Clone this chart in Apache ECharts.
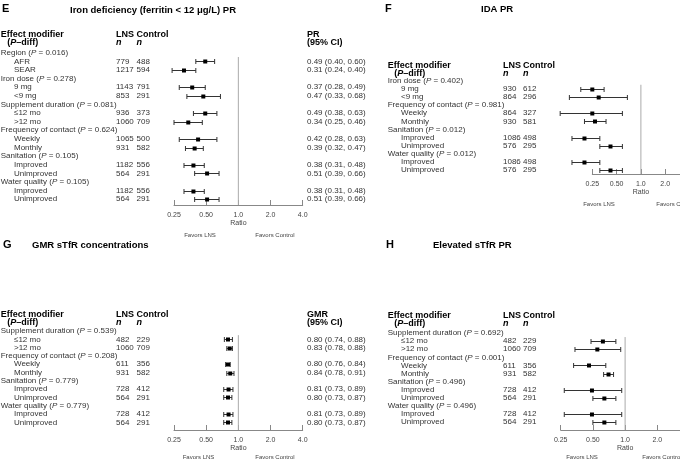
<!DOCTYPE html>
<html><head><meta charset="utf-8">
<script src="https://cdn.jsdelivr.net/npm/echarts@6/dist/echarts.min.js"></script>
<style>html,body{margin:0;padding:0;background:#fff;overflow:hidden}#c{width:680px;height:460px}</style>
</head><body><div id="c"></div>
<script>
// ---------- data ----------
const tickValues = [0.25, 0.5, 1, 2, 4];
const tickLabels = ['0.25', '0.50', '1.0', '2.0', '4.0'];

// Panel E: Iron deficiency PR
const eGroups = ['Region', 'Iron dose', 'Supplement duration', 'Frequency of contact', 'Sanitation', 'Water quality'];
const eGroupP = ['0.016', '0.278', '0.081', '0.624', '0.105', '0.105'];
const eSub = ['AFR', 'SEAR', '9 mg', '<9 mg', '≤12 mo', '>12 mo', 'Weekly', 'Monthly', 'Improved', 'Unimproved', 'Improved', 'Unimproved'];
const eLNS = [779, 1217, 1143, 853, 936, 1060, 1065, 931, 1182, 564, 1182, 564];
const eCtl = [488, 594, 791, 291, 373, 709, 500, 582, 556, 291, 556, 291];
const eEst = [0.49, 0.31, 0.37, 0.47, 0.49, 0.34, 0.42, 0.39, 0.38, 0.51, 0.38, 0.51];
const eLo  = [0.40, 0.24, 0.28, 0.33, 0.38, 0.25, 0.28, 0.32, 0.31, 0.39, 0.31, 0.39];
const eHi  = [0.60, 0.40, 0.49, 0.68, 0.63, 0.46, 0.63, 0.47, 0.48, 0.66, 0.48, 0.66];

// Panel F: IDA PR
const fGroups = ['Iron dose', 'Frequency of contact', 'Sanitation', 'Water quality'];
const fGroupP = ['0.402', '0.981', '0.012', '0.012'];
const fSub = ['9 mg', '<9 mg', 'Weekly', 'Monthly', 'Improved', 'Unimproved', 'Improved', 'Unimproved'];
const fLNS = [930, 864, 864, 930, 1086, 576, 1086, 576];
const fCtl = [612, 296, 327, 581, 498, 295, 498, 295];
const fEst = [0.25, 0.30, 0.25, 0.27, 0.20, 0.42, 0.20, 0.42];
const fLo  = [0.18, 0.13, 0.10, 0.20, 0.14, 0.31, 0.14, 0.31];
const fHi  = [0.35, 0.68, 0.59, 0.37, 0.31, 0.59, 0.31, 0.59];

// Panel G: GMR sTfR concentrations
const gGroups = ['Supplement duration', 'Frequency of contact', 'Sanitation', 'Water quality'];
const gGroupP = ['0.539', '0.208', '0.779', '0.779'];
const gSub = ['≤12 mo', '>12 mo', 'Weekly', 'Monthly', 'Improved', 'Unimproved', 'Improved', 'Unimproved'];
const gLNS = [482, 1060, 611, 931, 728, 564, 728, 564];
const gCtl = [229, 709, 356, 582, 412, 291, 412, 291];
const gEst = [0.80, 0.83, 0.80, 0.84, 0.81, 0.80, 0.81, 0.80];
const gLo  = [0.74, 0.78, 0.76, 0.78, 0.73, 0.73, 0.73, 0.73];
const gHi  = [0.88, 0.88, 0.84, 0.91, 0.89, 0.87, 0.89, 0.87];

// Panel H: Elevated sTfR PR
const hGroups = ['Supplement duration', 'Frequency of contact', 'Sanitation', 'Water quality'];
const hGroupP = ['0.692', '0.001', '0.496', '0.496'];
const hSub = ['≤12 mo', '>12 mo', 'Weekly', 'Monthly', 'Improved', 'Unimproved', 'Improved', 'Unimproved'];
const hLNS = [482, 1060, 611, 931, 728, 564, 728, 564];
const hCtl = [229, 709, 356, 582, 412, 291, 412, 291];
const hEst = [0.62, 0.55, 0.46, 0.70, 0.49, 0.64, 0.49, 0.64];
const hLo  = [0.48, 0.34, 0.33, 0.63, 0.27, 0.50, 0.27, 0.50];
const hHi  = [0.82, 0.91, 0.66, 0.78, 0.93, 0.82, 0.93, 0.82];

// ---------- build ----------
const FONT = '"Liberation Sans", Arial, Helvetica, sans-serif';
const TXT = '#333';

function buildRows(groups, groupP, sub, lns, ctl, est, lo, hi) {
  const rows = [];
  groups.forEach((g, gi) => {
    rows.push({kind: 'group', label: g, p: groupP[gi]});
    for (let k = 0; k < 2; k++) {
      const i = gi * 2 + k;
      rows.push({kind: 'sub', label: sub[i], lns: lns[i], ctl: ctl[i], est: est[i], lo: lo[i], hi: hi[i]});
    }
  });
  return rows;
}

const panels = [
  {rows: buildRows(eGroups, eGroupP, eSub, eLNS, eCtl, eEst, eLo, eHi),
   letter: 'E', letterX: 2, letterY: 9, title: 'Iron deficiency (ferritin < 12 μg/L) PR', titleX: 153, titleY: 10, titleAlign: 'center',
   measure: 'PR', row0: 52.7, pitch: 8.62, axisY: 205, axL: 174, axW: 128.7,
   col: {grp: 0.7, sub: 14, lns: 116, ctlH: 136.5, ctl: 136.5, ci: 307}, hdr1: 34.3, hdr2: 42.7,
   favL: [200, 235], favC: [275, 235]},
  {rows: buildRows(fGroups, fGroupP, fSub, fLNS, fCtl, fEst, fLo, fHi),
   letter: 'F', letterX: 385, letterY: 9, title: 'IDA PR', titleX: 481, titleY: 9, titleAlign: 'left',
   measure: null, row0: 80.7, pitch: 8.12, axisY: 174, axL: 592.3, axW: 97.2,
   col: {grp: 387.7, sub: 401, lns: 503, ctlH: 523, ctl: 523, ci: null}, hdr1: 65.5, hdr2: 73.3,
   favL: [599, 204], favC: [676, 204]},
  {rows: buildRows(gGroups, gGroupP, gSub, gLNS, gCtl, gEst, gLo, gHi),
   letter: 'G', letterX: 3, letterY: 245, title: 'GMR sTfR concentrations', titleX: 32, titleY: 245, titleAlign: 'left',
   measure: 'GMR', row0: 331, pitch: 8.3, axisY: 430, axL: 174, axW: 128.7,
   col: {grp: 0.7, sub: 14, lns: 116, ctlH: 136.5, ctl: 136.5, ci: 307}, hdr1: 315, hdr2: 322.7,
   favL: [198.5, 457.3], favC: [275, 457.3]},
  {rows: buildRows(hGroups, hGroupP, hSub, hLNS, hCtl, hEst, hLo, hHi),
   letter: 'H', letterX: 386, letterY: 245, title: 'Elevated sTfR PR', titleX: 433, titleY: 245, titleAlign: 'left',
   measure: null, row0: 333, pitch: 8.1, axisY: 430, axL: 560.7, axW: 128.8,
   col: {grp: 387.7, sub: 401, lns: 503, ctlH: 523, ctl: 523, ci: null}, hdr1: 316, hdr2: 323.5,
   favL: [582, 457.3], favC: [662, 457.3]}
];

const grid = [], xAxis = [], yAxis = [], series = [], graphic = [];

function fmtTick(v) {
  const i = tickValues.findIndex(t => Math.abs(t - v) < 1e-6);
  return i >= 0 ? tickLabels[i] : '';
}

panels.forEach(P => {
  const rows = P.rows;
  const top = P.row0 - P.pitch / 2;
  const yMax = (P.axisY - P.row0) / P.pitch;
  const height = P.axisY - top;
  const gi = grid.length;
  // text grid (pixel-like x scale)
  grid.push({left: 0, top: top, width: 680, height: height, outerBoundsMode: 'none', containLabel: false});
  xAxis.push({gridIndex: gi, type: 'value', min: 0, max: 680, show: false});
  yAxis.push({gridIndex: gi, type: 'value', inverse: true, min: -0.5, max: yMax, show: false});
  // forest grid
  grid.push({left: P.axL, top: top, width: P.axW, height: height, outerBoundsMode: 'none', containLabel: false});
  xAxis.push({gridIndex: gi + 1, type: 'log', logBase: 2, min: 0.25, max: 4, position: 'bottom',
    name: 'Ratio', nameLocation: 'middle', nameGap: 14.5,
    nameTextStyle: {fontSize: 7, color: '#444', fontFamily: FONT},
    axisLine: {show: true, onZero: false, lineStyle: {color: '#888', width: 1}},
    axisTick: {show: true, inside: true, length: 5, lineStyle: {color: '#888'}},
    axisLabel: {fontSize: 7, color: '#444', margin: 7, fontFamily: FONT, formatter: fmtTick, showMinLabel: true, showMaxLabel: true},
    splitLine: {show: false}, minorTick: {show: false}});
  yAxis.push({gridIndex: gi + 1, type: 'value', inverse: true, min: -0.5, max: yMax, show: false});

  const col = P.col;
  series.push({
    type: 'custom', xAxisIndex: gi, yAxisIndex: gi, silent: true, clip: false,
    data: rows.map((r, i) => [0, i]),
    renderItem: (params, api) => {
      const r = rows[params.dataIndex];
      const y = api.coord([0, params.dataIndex])[1];
      const X = v => api.coord([v, 0])[0];
      const base = {fontSize: 8, fontFamily: FONT, fill: TXT, textAlign: 'left', textVerticalAlign: 'middle'};
      const ch = [];
      if (r.kind === 'group') {
        ch.push({type: 'text', style: Object.assign({}, base, {x: X(col.grp), y: y,
          text: r.label + ' ({i|P} = ' + r.p + ')',
          rich: {i: {fontStyle: 'italic', fontSize: 8, fontFamily: FONT, fill: TXT}}})});
      } else {
        ch.push({type: 'text', style: Object.assign({}, base, {x: X(col.sub), y: y, text: r.label})});
        ch.push({type: 'text', style: Object.assign({}, base, {x: X(col.lns), y: y, text: String(r.lns)})});
        ch.push({type: 'text', style: Object.assign({}, base, {x: X(col.ctl), y: y, text: String(r.ctl)})});
        if (col.ci != null) {
          ch.push({type: 'text', style: Object.assign({}, base, {x: X(col.ci), y: y,
            text: r.est.toFixed(2) + ' (' + r.lo.toFixed(2) + ', ' + r.hi.toFixed(2) + ')'})});
        }
      }
      return {type: 'group', children: ch};
    }
  });
  // reference line at ratio 1
  series.push({type: 'line', xAxisIndex: gi + 1, yAxisIndex: gi + 1, silent: true, symbol: 'none',
    lineStyle: {color: '#aaa', width: 1}, data: [[1, 0.5], [1, yMax]], animation: false});
  // CI whiskers and point estimates
  const fdata = [];
  rows.forEach((r, i) => { if (r.kind === 'sub') fdata.push([r.est, i, r.lo, r.hi]); });
  series.push({
    type: 'custom', xAxisIndex: gi + 1, yAxisIndex: gi + 1, silent: true, clip: false,
    data: fdata,
    renderItem: (params, api) => {
      const pe = api.coord([api.value(0), api.value(1)]);
      const pl = api.coord([api.value(2), api.value(1)]);
      const ph = api.coord([api.value(3), api.value(1)]);
      const y = Math.round(pe[1]) + 0.5;
      const ls = {stroke: '#333', lineWidth: 1};
      return {type: 'group', children: [
        {type: 'line', shape: {x1: pl[0], y1: y, x2: ph[0], y2: y}, style: ls},
        {type: 'line', shape: {x1: pl[0], y1: y - 2.5, x2: pl[0], y2: y + 2.5}, style: ls},
        {type: 'line', shape: {x1: ph[0], y1: y - 2.5, x2: ph[0], y2: y + 2.5}, style: ls},
        {type: 'rect', shape: {x: pe[0] - 2, y: y - 2, width: 4, height: 4}, style: {fill: '#000'}}
      ]};
    }
  });

  // headers / titles
  const txt = (x, y, text, font, extra) => graphic.push(Object.assign({type: 'text', x: x, y: y, silent: true,
    style: Object.assign({text: text, font: font, fill: '#000', textAlign: 'left', textVerticalAlign: 'middle'}, extra || {})}));
  txt(P.letterX, P.letterY, P.letter, 'bold 11px ' + FONT);
  txt(P.titleX, P.titleY, P.title, 'bold 9.5px ' + FONT, {textAlign: P.titleAlign});
  txt(col.grp, P.hdr1, 'Effect modifier', 'bold 9px ' + FONT);
  txt(col.grp + 6.6, P.hdr2, '({ib|P}\u2013diff)', 'bold 9px ' + FONT,
      {rich: {ib: {fontStyle: 'italic', fontWeight: 'bold', fontSize: 9, fontFamily: FONT, fill: '#000'}}});
  txt(col.lns, P.hdr1, 'LNS', 'bold 9px ' + FONT);
  txt(col.ctlH, P.hdr1, 'Control', 'bold 9px ' + FONT);
  txt(col.lns, P.hdr2, 'n', 'italic bold 9px ' + FONT);
  txt(col.ctlH, P.hdr2, 'n', 'italic bold 9px ' + FONT);
  if (P.measure) {
    txt(col.ci, P.hdr1, P.measure, 'bold 9px ' + FONT);
    txt(col.ci, P.hdr2, '(95% CI)', 'bold 9px ' + FONT);
  }
  txt(P.favL[0], P.favL[1], 'Favors LNS', '6px ' + FONT, {fill: '#444', textAlign: 'center'});
  txt(P.favC[0], P.favC[1], 'Favors Control', '6px ' + FONT, {fill: '#444', textAlign: 'center'});
});

const chart = echarts.init(document.getElementById('c'), null, {renderer: 'canvas'});
chart.setOption({animation: false, backgroundColor: '#fff', grid, xAxis, yAxis, series, graphic});
</script></body></html>
